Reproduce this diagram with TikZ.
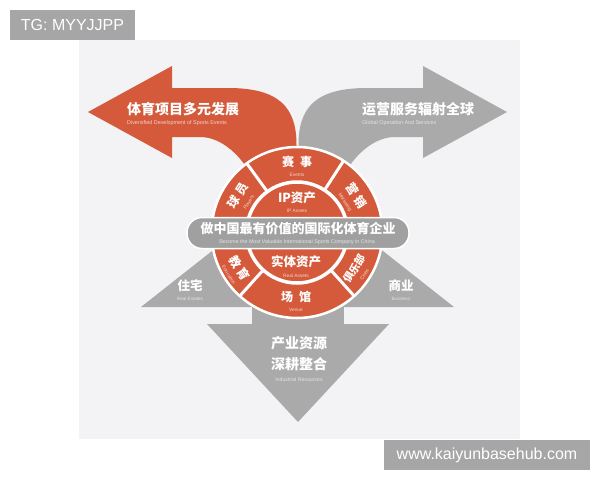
\documentclass[tikz,border=0pt]{standalone}
\usepackage{fontspec}
\setmainfont{Liberation Sans}
\newfontfamily\cjk{Noto Sans CJK SC}
\definecolor{org}{HTML}{D45A3B}
\definecolor{grayA}{HTML}{AAAAAA}
\definecolor{bannerC}{HTML}{A0A0A0}
\definecolor{panel}{HTML}{F3F2F4}
\definecolor{tagC}{HTML}{A6A6A6}
\definecolor{enOrg}{HTML}{F6D3C8}
\definecolor{enGry}{HTML}{E4E4E4}
\newcommand{\ensmall}[1]{{\color{enOrg}\fontsize{4.8}{5}\selectfont\mdseries\rmfamily #1}}
\tikzset{
  cjkw/.style={text=white, inner sep=0pt, font=\cjk\bfseries\fontsize{12}{12}\selectfont},
  cjkrot/.style={text=white, inner sep=0pt, align=center, font=\cjk\bfseries\fontsize{12}{12}\selectfont},
  cjkbig/.style={text=white, inner sep=0pt, font=\cjk\bfseries\fontsize{14}{14}\selectfont},
  cjkmid/.style={text=white, inner sep=0pt, font=\cjk\bfseries\fontsize{13}{13}\selectfont},
  enO/.style={text=enOrg, inner sep=0pt, font=\fontsize{4.8}{5}\selectfont},
  enG/.style={text=enGry, inner sep=0pt, font=\fontsize{5.2}{5.5}\selectfont},
  tagtext/.style={text=white, inner sep=0pt, font=\fontsize{16}{16}\selectfont},
  divider/.style={draw=white, line width=3pt},
}
\begin{document}
\begin{tikzpicture}[x=1pt,y=-1pt]
\useasboundingbox (0,0) rectangle (600,480);
\fill[white] (0,0) rectangle (600,480);
\fill[panel] (79,40) rectangle (520,439);

% right gray arrow
\fill[grayA] (507,112) -- (423,66) -- (423,88) -- (367,88)
  .. controls (315,88) and (298.5,108) .. (298.5,145) -- (298.5,205) -- (345,205) -- (348,168)
  .. controls (360,150) and (377,137) .. (395,137) -- (423,137) -- (423,158) -- cycle;
% left orange arrow
\fill[org] (88,112) -- (172,66) -- (172,88) -- (228,88)
  .. controls (280,88) and (296.5,108) .. (296.5,145) -- (296.5,205) -- (250,205) -- (247,168)
  .. controls (235,150) and (218,137) .. (200,137) -- (172,137) -- (172,158) -- cycle;

% side triangles
\fill[grayA] (141,307) -- (245,225) -- (275,307) -- cycle;
\fill[grayA] (454,307) -- (350,225) -- (320,307) -- cycle;
% down arrow
\fill[grayA] (252,285) rectangle (344,325);
\fill[grayA] (207,324) -- (389,324) -- (298,422) -- cycle;

% central circle
\begin{scope}[shift={(297,232.5)}]
  \fill[org] (0,0) circle[radius=84.5];
  \draw[white, line width=2.5pt] (0,0) circle[radius=85.5];
  \draw[white, line width=3.5pt] (0,0) circle[radius=50.5];
  \draw[divider] (-126:50) -- (-126:86);
  \draw[divider] (-57:50) -- (-57:86);
  \draw[divider] (132:50) -- (132:86);
  \draw[divider] (48:50) -- (48:86);
\end{scope}

% banner
\draw[fill=bannerC, draw=white, line width=1.5pt, rounded corners=15pt] (187,217.5) rectangle (409,248.5);
\node[cjkmid] (ban) at (298,229) {做中国最有价值的国际化体育企业};
\node[enG, font=\fontsize{5.3}{5.5}\selectfont] (banEn) at (297,242.5) {Become the Most Valuable International Sports Company in China};

% arrow texts
\node[cjkbig, anchor=west] (la) at (127,109) {体育项目多元发展};
\node[enO, anchor=west, font=\fontsize{5.4}{5.5}\selectfont] (laEn) at (127,123) {Diversified Development of Sports Events};
\node[cjkbig, anchor=west] (ra) at (362,109) {运营服务辐射全球};
\node[enG, anchor=west, font=\fontsize{5.4}{5.5}\selectfont] (raEn) at (362,123) {Global Operation And Services};

% circle texts
\node[cjkw] (ev) at (297,162) {赛\hspace{6pt}事};
\node[enO] (evEn) at (297,174.5) {Events};
\node[cjkw, font=\cjk\bfseries\fontsize{12.5}{12.5}\selectfont] (ip) at (297,197.5) {IP资产};
\node[enO] (ipEn) at (297,211) {IP Assets};
\node[cjkw, font=\cjk\bfseries\fontsize{12.5}{12.5}\selectfont] (rea) at (296,262) {实体资产};
\node[enO] (reaEn) at (296,276) {Real Assets};
\node[cjkw] (ve) at (296,296.5) {场\hspace{6pt}馆};
\node[enO] (veEn) at (296,310) {Venue};

\node[cjkrot, rotate=58] (pl) at (241.9,198.1) {球\hspace{3pt}员\\[-2pt]\ensmall{Players}};
\node[cjkrot, rotate=-58] (mk) at (352.1,198.1) {营\hspace{3pt}销\\[-2pt]\ensmall{Marketing}};
\node[cjkrot, rotate=-58] (ed) at (236.1,270.6) {教\hspace{3pt}育\\[-2pt]\ensmall{Education}};
\node[cjkrot, font=\cjk\bfseries\fontsize{10.5}{10.5}\selectfont, rotate=58] (cl) at (358.1,270.7) {俱乐部\\[-1pt]\ensmall{Clubs}};

% triangle texts
\node[cjkw, font=\cjk\bfseries\fontsize{12.5}{12.5}\selectfont] (zh) at (190,285.5) {住宅};
\node[enG, font=\fontsize{4.6}{5}\selectfont] (zhEn) at (190,298.5) {Real Estates};
\node[cjkw, font=\cjk\bfseries\fontsize{12.5}{12.5}\selectfont] (sy) at (401,285.5) {商业};
\node[enG, font=\fontsize{4.6}{5}\selectfont] (syEn) at (401,298.5) {Business};

% down arrow texts
\node[cjkbig] (d1) at (299,343) {产业资源};
\node[cjkbig] (d2) at (299,364) {深耕整合};
\node[enG] (d3) at (299,380) {Industrial Resources};

% tags
\fill[tagC] (10,10) rectangle (135,40);
\node[tagtext] (tg) at (72.5,25) {TG: MYYJJPP};
\fill[tagC] (384,440) rectangle (590,470);
\node[tagtext] (web) at (487,455) {www.kaiyunbasehub.com};
\end{tikzpicture}
\end{document}
